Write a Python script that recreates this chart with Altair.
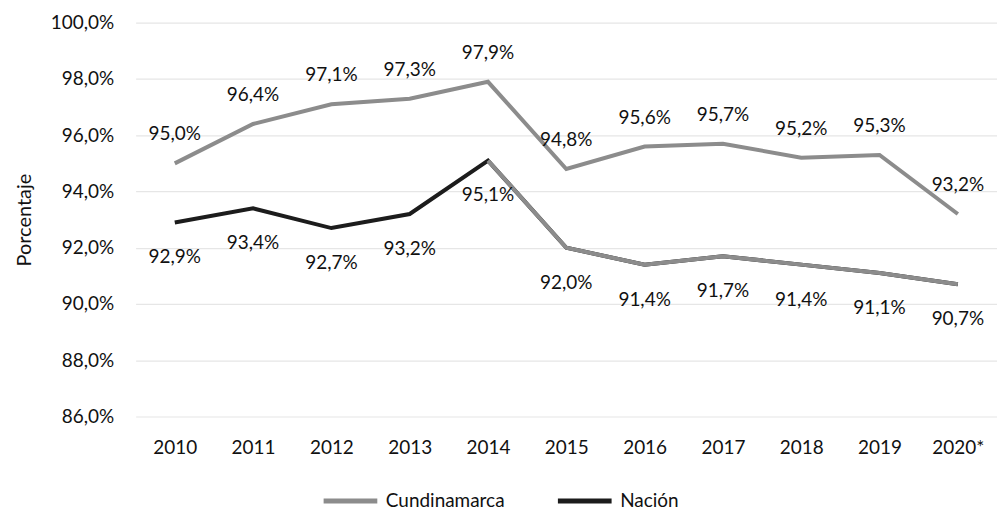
import altair as alt
import pandas as pd

years = ["2010", "2011", "2012", "2013", "2014", "2015", "2016", "2017", "2018", "2019", "2020*"]
cundinamarca = [95.0, 96.4, 97.1, 97.3, 97.9, 94.8, 95.6, 95.7, 95.2, 95.3, 93.2]
nacion = [92.9, 93.4, 92.7, 93.2, 95.1, 92.0, 91.4, 91.7, 91.4, 91.1, 90.7]
series = ["Cundinamarca", "Nación"]
colors = ["#8c8c8c", "#1c1c1c"]

rows = []
for i, y in enumerate(years):
    rows.append({"year": y, "serie": series[0], "value": cundinamarca[i], "pos": "above", "late": i >= 4})
    rows.append({"year": y, "serie": series[1], "value": nacion[i], "pos": "below", "late": i >= 4})
df = pd.DataFrame(rows)
df["label"] = df["value"].map(lambda v: f"{v:.1f}".replace(".", ",") + "%")
df["v"] = df["value"] / 100

FONT = "Lato"
FS = 19

x = alt.X("year:N", sort=years, title=None,
          axis=alt.Axis(labelAngle=0, labelFont=FONT, labelFontSize=FS, labelColor="#111",
                        domain=False, ticks=False, labelPadding=22, grid=False))
y = alt.Y("v:Q", title="Porcentaje",
          scale=alt.Scale(domain=[0.86, 1.0], nice=False, zero=False),
          axis=alt.Axis(format=".1%", values=[0.86, 0.88, 0.90, 0.92, 0.94, 0.96, 0.98, 1.0],
                        labelFont=FONT, labelFontSize=FS, labelColor="#111",
                        labelExpr="replace(datum.label, '.', ',')",
                        titleFont=FONT, titleFontSize=20, titleFontWeight="normal", titleColor="#111",
                        titlePadding=16, domain=False, ticks=False, labelPadding=22,
                        grid=True, gridColor="#e6e6e6", gridWidth=1.2))

color = alt.Color("serie:N", scale=alt.Scale(domain=series, range=colors),
                  legend=alt.Legend(title=None, orient="none", legendX=186, legendY=450,
                                    direction="horizontal", symbolType="stroke",
                                    symbolSize=2900, symbolStrokeWidth=5,
                                    labelFont=FONT, labelFontSize=FS, labelColor="#111",
                                    columnPadding=42, labelOffset=6))

xs = alt.X("year:N", sort=years)
ys = alt.Y("v:Q")

base = alt.Chart(df)
lines = base.mark_line(strokeWidth=4).encode(x=x, y=y, color=color)
late = alt.Chart(df[(df["serie"] == "Nación") & (df["late"])]).mark_line(
    strokeWidth=4, color="#8c8c8c").encode(x=xs, y=ys)
above = base.transform_filter("datum.pos == 'above'").mark_text(
    font=FONT, fontSize=FS, color="#111", dy=-29, baseline="middle").encode(
    x=xs, y=ys, text="label:N")
below = base.transform_filter("datum.pos == 'below'").mark_text(
    font=FONT, fontSize=FS, color="#111", dy=35, baseline="middle").encode(
    x=xs, y=ys, text="label:N")

chart = alt.layer(lines, late, above, below).properties(
    width=864, height=395,
    background="white",
    autosize=alt.AutoSizeParams(type="none"),
    padding={"left": 128, "top": 14, "right": 0, "bottom": 97},
).configure_view(stroke=None).configure_axis(domain=False)

chart.save("out.html", embed_options={"renderer": "svg", "actions": False})
